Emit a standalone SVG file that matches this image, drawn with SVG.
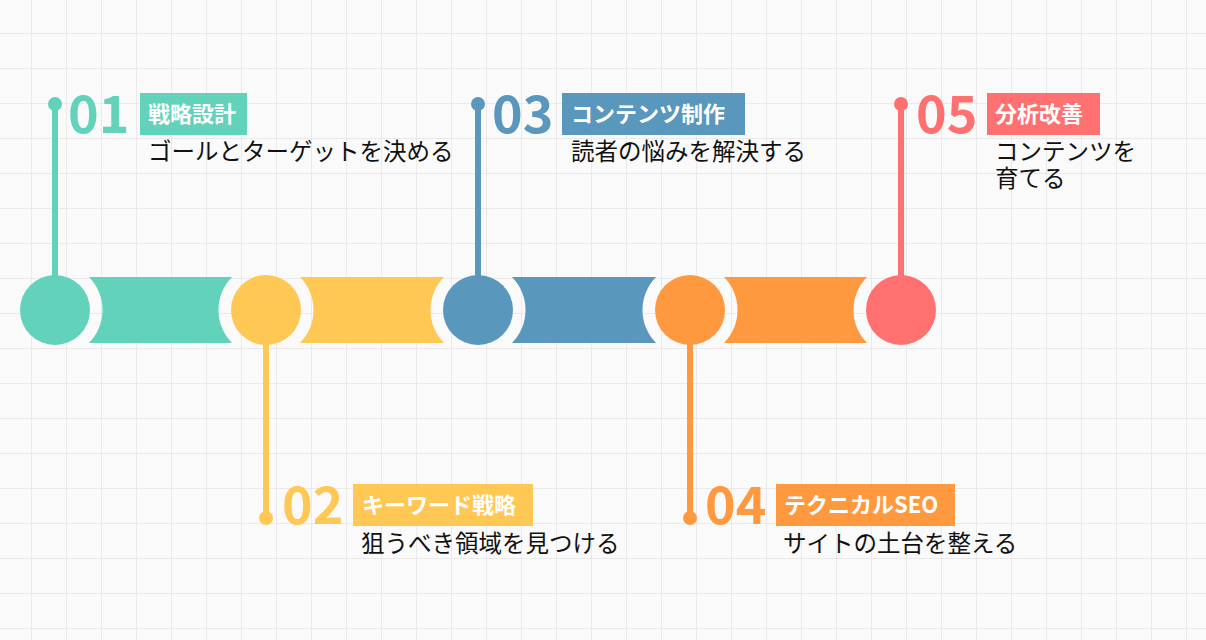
<svg xmlns="http://www.w3.org/2000/svg" width="1206" height="640" viewBox="0 0 1206 640">
<defs>
<pattern id="grid" x="31" y="33" width="35" height="35" patternUnits="userSpaceOnUse">
<path d="M0 0V35M0 0H35" fill="none" stroke="#dcd8d8" stroke-width="1"/>
</pattern>
<style>
.num{font-family:"Noto Sans CJK JP","Noto Sans",sans-serif;font-weight:700;font-size:52px}
.lbl{font-family:"Noto Sans CJK JP",sans-serif;font-weight:700;font-size:22px;fill:#fff}
.desc{font-family:"Noto Sans CJK JP",sans-serif;font-size:23.5px;fill:#111}
</style>
</defs>
<rect width="1206" height="640" fill="#fafafa"/>
<rect width="1206" height="640" fill="url(#grid)"/>
<g id="connectors">
<path d="M55 104V280" stroke="#62D2BB" stroke-width="6"/><circle cx="55" cy="104" r="7" fill="#62D2BB"/>
<path d="M266 340V518" stroke="#FFC854" stroke-width="6"/><circle cx="266" cy="518" r="7" fill="#FFC854"/>
<path d="M478 104V280" stroke="#5A97BC" stroke-width="6"/><circle cx="478" cy="104" r="7" fill="#5A97BC"/>
<path d="M690 340V518" stroke="#FF9940" stroke-width="6"/><circle cx="690" cy="518" r="7" fill="#FF9940"/>
<path d="M901 104V280" stroke="#FF7070" stroke-width="6"/><circle cx="901" cy="104" r="7" fill="#FF7070"/>
</g>
<g id="bar1"><path d="M89 277H232A47 47 0 0 0 232 343H89A47 47 0 0 0 89 277Z" fill="#62D2BB"/></g>
<g id="bar2"><path d="M300 277H444A47 47 0 0 0 444 343H300A47 47 0 0 0 300 277Z" fill="#FFC854"/></g>
<g id="bar3"><path d="M512 277H656A47 47 0 0 0 656 343H512A47 47 0 0 0 512 277Z" fill="#5A97BC"/></g>
<g id="bar4"><path d="M724 277H867A47 47 0 0 0 867 343H724A47 47 0 0 0 724 277Z" fill="#FF9940"/></g>
<g id="node1">
<circle cx="55" cy="310" r="35" fill="#62D2BB"/>
<text x="68" y="133" class="num" fill="#62D2BB">01</text>
<rect x="140" y="93" width="107" height="42" fill="#62D2BB"/>
<text x="148" y="122" class="lbl">戦略設計</text>
<text x="148" y="160" class="desc">ゴールとターゲットを決める</text>
</g>
<g id="node2">
<circle cx="266" cy="310" r="35" fill="#FFC854"/>
<text x="282" y="524" class="num" fill="#FFC854">02</text>
<rect x="353" y="484" width="180" height="42" fill="#FFC854"/>
<text x="362" y="513" class="lbl">キーワード戦略</text>
<text x="361" y="552" class="desc">狙うべき領域を見つける</text>
</g>
<g id="node3">
<circle cx="478" cy="310" r="35" fill="#5A97BC"/>
<text x="492" y="133" class="num" fill="#5A97BC">03</text>
<rect x="562" y="93" width="183" height="42" fill="#5A97BC"/>
<text x="571" y="122" class="lbl">コンテンツ制作</text>
<text x="571" y="160" class="desc">読者の悩みを解決する</text>
</g>
<g id="node4">
<circle cx="690" cy="310" r="35" fill="#FF9940"/>
<text x="705" y="524" class="num" fill="#FF9940">04</text>
<rect x="776" y="484" width="179" height="42" fill="#FF9940"/>
<text x="784" y="513" class="lbl">テクニカルSEO</text>
<text x="783" y="552" class="desc">サイトの土台を整える</text>
</g>
<g id="node5">
<circle cx="901" cy="310" r="35" fill="#FF7070"/>
<text x="916" y="133" class="num" fill="#FF7070">05</text>
<rect x="987" y="93" width="113" height="42" fill="#FF7070"/>
<text x="995" y="122" class="lbl">分析改善</text>
<text x="995" y="160" class="desc">コンテンツを</text>
<text x="995" y="187" class="desc">育てる</text>
</g>
</svg>
